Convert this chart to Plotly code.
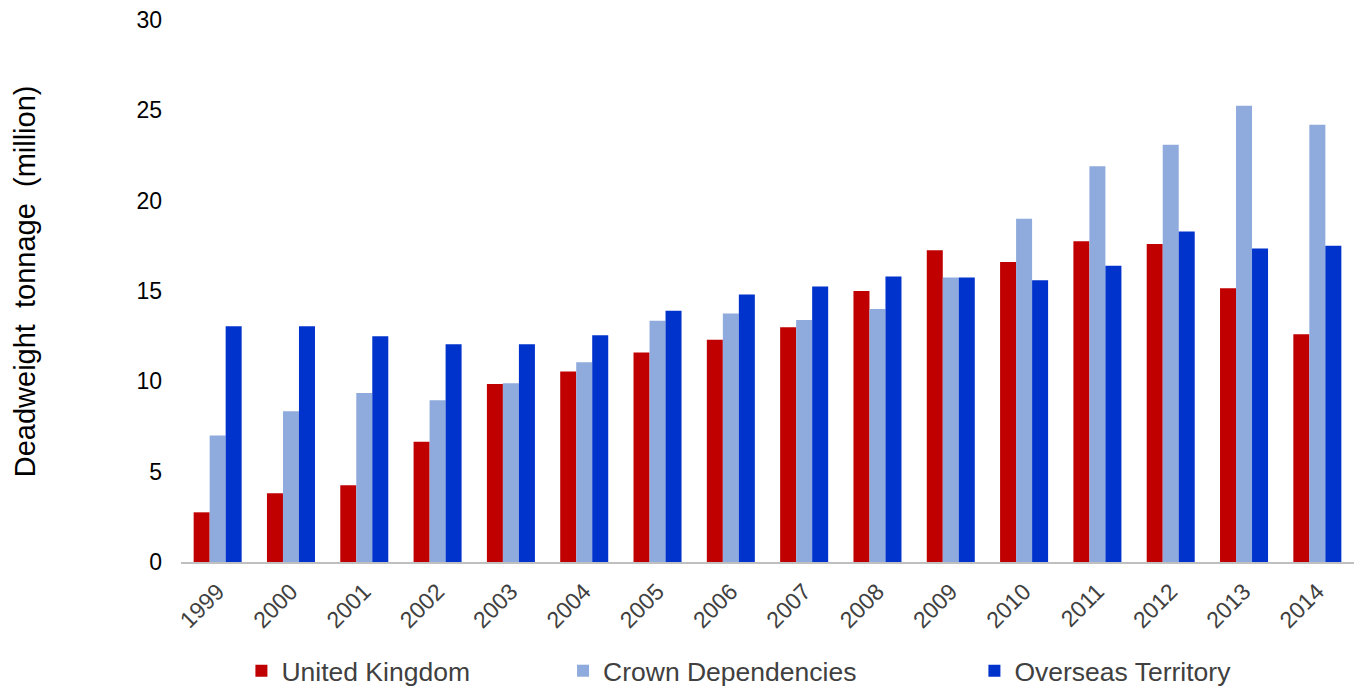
import plotly.graph_objects as go

years = ["1999", "2000", "2001", "2002", "2003", "2004", "2005", "2006",
         "2007", "2008", "2009", "2010", "2011", "2012", "2013", "2014"]
united_kingdom = [2.75, 3.8, 4.25, 6.65, 9.85, 10.55, 11.6, 12.3,
                  13.0, 15.0, 17.25, 16.6, 17.75, 17.6, 15.15, 12.6]
crown_dependencies = [7.0, 8.35, 9.35, 8.95, 9.9, 11.05, 13.35, 13.75,
                      13.4, 14.0, 15.75, 19.0, 21.9, 23.1, 25.25, 24.2]
overseas_territory = [13.05, 13.05, 12.5, 12.05, 12.05, 12.55, 13.9, 14.8,
                      15.25, 15.8, 15.75, 15.6, 16.4, 18.3, 17.35, 17.5]

series_names = ["United Kingdom", "Crown Dependencies", "Overseas Territory"]
series_values = [united_kingdom, crown_dependencies, overseas_territory]
series_colors = ["#C00000", "#8FAADC", "#0033CC"]
legend_ids = ["legend", "legend2", "legend3"]
legend_x = [0.0515, 0.3257, 0.6764]

FONT = "Liberation Sans, Arial, sans-serif"

fig = go.Figure()
for name, vals, col, lg in zip(series_names, series_values, series_colors, legend_ids):
    fig.add_trace(go.Bar(x=years, y=vals, name=name, marker_color=col,
                         marker_line_width=0, legend=lg))

legend_common = dict(orientation="h", yref="container", yanchor="middle", y=0.0219,
                     xanchor="left",
                     font=dict(family=FONT, size=26.5, color="#404040"),
                     bgcolor="rgba(0,0,0,0)", itemwidth=30)

layout_legends = {}
for lg, lx in zip(legend_ids, legend_x):
    layout_legends[lg] = dict(legend_common, x=lx)

fig.update_layout(
    width=1359, height=686,
    margin=dict(l=181, r=5, t=20, b=124, autoexpand=False),
    paper_bgcolor="white", plot_bgcolor="white",
    barmode="group", bargap=0.345, bargroupgap=0,
    font=dict(family=FONT, color="black"),
    showlegend=True,
    **layout_legends,
    xaxis=dict(showgrid=False, showline=True, linecolor="#BFBFBF", linewidth=2,
               tickangle=-45, tickfont=dict(family=FONT, size=23, color="#404040"),
               ticks="", ticklabelstandoff=5, automargin=False),
    yaxis=dict(range=[0, 30], tickvals=[0, 5, 10, 15, 20, 25, 30],
               showgrid=False, zeroline=False, showline=False, ticks="",
               tickfont=dict(family=FONT, size=23, color="black"),
               ticklabelstandoff=18, automargin=False),
    annotations=[dict(text="Deadweight  tonnage  (million)", textangle=-90,
                      xref="paper", yref="paper", x=-0.133, y=0.518,
                      xanchor="center", yanchor="middle", showarrow=False,
                      font=dict(family=FONT, size=29, color="black"))],
)

fig.write_html("out.html")
